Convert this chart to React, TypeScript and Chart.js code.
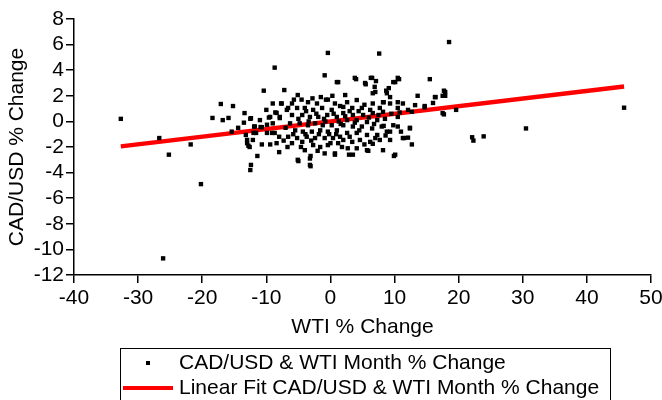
import React, { useEffect, useRef } from "react";
import { Chart, registerables } from "chart.js";

Chart.register(...registerables);

// WTI % change (x) and CAD/USD % change (y)
const wtiChange: number[] = [
  -32.7, -26.7, -25.2, -21.8, -20.2, -26.1, -18.4, -17.1, -16.8, -15.9, -15.2, -15.4, -14.4, -13.5, -13.4, -12.5, -13.2, -13.0, -12.8, -12.5, -12.4, -11.4, -11.9, -11.6, -10.9, -10.4, -10.7, -9.9, -9.4, -8.7, -9.6, -9.0, -8.6, -8.0, -7.2, -7.6, -7.9, -5.0, -3.1, -3.1, -0.4, -0.9, -0.7,
  18.5, 7.6, 45.8, 30.5, 23.9, 22.1, 22.3, 19.6, 17.7, 17.9, 17.7, 15.5, 16.4, 16.0, 14.7, 13.6, 13.2, 12.7, 12.4, 12.1, 11.5, 10.5, 9.9, 10.7, 10.1, 9.1, 8.7, 9.3, 8.3, 6.3, 7.1, 5.5, 7.0, 4.0, 1.2, 5.9, 2.9, 0.7, 6.6, 9.3, 8.3,
  -7.7, -12.4, -9.4, -8.4, -7.9, -9.0, -11.8, -10.7, -9.9, -9.1, -8.7, -13.0, -12.1, -12.6, -8.4,
  1.0, -5.1, -3.5, -6.0, -2.1, -0.4, 0.7, -6.6, -5.2, -4.0, -2.7, -1.3, 0.2, -6.0, -4.4, -3.2, -1.9, -0.5, 1.0, -6.3, -4.8, -3.5, -2.4, -1.2, 0.2, -5.5, -4.3, -2.9, -1.6, -0.4, 1.0, -6.6, -5.2, -3.7, -2.4, -0.9, 0.4, -6.0, -4.4, -2.7, -1.6, -0.4, 1.2, -4.0, -0.9, -5.1, -3.2, -3.2, 0.7,
  3.8, 6.5, 5.4, 6.9, 9.8, 2.3, 6.6, 8.8, 2.6, 4.1, 6.6, 8.2, 9.3, 2.0, 3.4, 4.9, 6.2, 7.7, 2.0, 3.5, 5.1, 6.6, 8.2, 2.6, 4.1, 5.7, 7.3, 2.0, 3.5, 4.9, 6.5, 8.0, 2.6, 4.1, 5.7, 7.3, 8.8, 2.0, 3.4, 4.6, 6.2, 7.7, 9.3, 2.7, 4.1, 5.7, 3.5, 8.2,
  10.5, 17.9, 17.5, 16.3, 10.5, 11.3, 14.7, 10.5, 12.1, 17.5, 10.5, 12.7, 12.4, 11.3, 10.1,
  -7.0, -6.8, -5.8, -5.0, -4.6, -3.8, -3.0, -2.2, -1.8, -1.0, -0.2, 0.5, 0.9, 1.5, 1.6, 1.5, 1.8, 2.3, 3.0, 3.0, 3.8, 4.4, 4.5, 5.3, 5.3, 6.0, 6.8, 7.0, 7.5, 8.5, 8.6, 9.5, 9.8, 10.8, 11.0, -10.0, -11.0, -12.0, -8.0, -7.3, -6.7, -5.7, -4.5, -2.8, -1.5, 0.3, -3.9, -2.0, 0.0, 1.3, -0.8, -3.4,
];
const cadChange: number[] = [
  0.2, -1.3, -2.6, -1.8, -4.9, -10.7, 0.27, 1.36, 0.1, 0.27, 1.2, -0.8, -0.5, -0.1, 0.65, 0.2, -1.06, -1.7, -1.9, -3.8, -3.4, -2.7, -0.4, -0.9, -0.44, 2.4, -1.8, -0.26, -1.8, 4.2, 0.3, 1.4, 0.7, -2.4, 2.45, 1.4, 0.35, -3.1, -2.7, -3.5, 5.35, 3.6, 1.7,
  6.2, 5.3, 1.07, -0.55, -1.17, -1.24, -1.5, 0.9, 0.55, 2.0, 2.4, 3.3, 1.9, 1.44, 1.1, 2.0, 1.27, -1.8, -0.5, -1.27, -1.3, -0.4, -2.7, 3.3, 3.07, 2.6, 2.4, 1.9, 1.5, 3.4, 3.15, 2.9, 2.3, 3.3, 3.07, -2.3, -2.6, -2.6, -1.75, -0.8, -0.35,
  1.4, 0.25, 0.35, 0.66, 0.26, -0.15, -0.4, -0.45, -0.9, -0.9, -0.9, -1.45, -1.45, -2.0, -1.7,
  3.07, 2.06, 1.5, 1.4, 1.4, 1.7, 1.4, 1.05, 1.05, 1.05, 0.9, 1.05, 0.9, 0.5, 0.5, 0.35, 0.35, 0.5, 0.35, -0.15, -0.15, -0.3, -0.15, -0.3, -0.3, -0.7, -0.8, -0.8, -0.7, -0.8, -0.7, -1.2, -1.3, -1.2, -1.3, -1.3, -1.3, -1.7, -1.6, -1.85, -2.0, -1.85, -1.7, -2.25, -2.5, -3.0, -3.4, -2.9, -2.5,
  3.4, 3.4, 3.0, 2.7, 3.07, 2.06, 2.2, 2.2, 1.5, 1.67, 1.4, 1.5, 1.4, 1.13, 1.05, 1.05, 0.9, 1.05, 0.65, 0.5, 0.5, 0.65, 0.75, 0.1, 0.1, -0.05, 0.1, -0.3, -0.4, -0.4, -0.55, -0.4, -0.9, -0.9, -1.06, -1.06, -0.8, -1.45, -1.6, -1.45, -1.6, -1.45, -1.45, -2.1, -2.1, -2.25, -2.6, -2.25,
  3.4, 2.3, 2.0, 1.9, 1.5, 1.4, 1.2, 1.05, 0.9, 0.65, 0.35, 0.75, -0.55, -1.3, -2.6,
  -0.5, 0.9, -1.0, 0.2, -2.0, 0.8, -1.5, 0.6, -1.0, 0.2, -1.0, 0.6, -1.0, 1.2, -0.2, -1.2, -2.0, 0.4, 0.8, -1.2, -0.1, 0.8, -0.7, 1.3, -1.8, 0.3, -0.2, -1.3, 0.5, 0.2, -1.1, 0.6, -0.3, 0.7, -0.8, 0.9, 0.1, -0.9, -1.2, -1.5, -2.0, 1.7, 1.7, 1.8, 1.9, 2.0, -1.0, -2.3, -1.7, 0.0, 0.0, 0.0,
];

// Linear fit end points
const fitX: number[] = [-32.7, 45.8];
const fitY: number[] = [-1.95, 2.72];

const xTicks: number[] = [-40, -30, -20, -10, 0, 10, 20, 30, 40, 50];
const yTicks: number[] = [-12, -10, -8, -6, -4, -2, 0, 2, 4, 6, 8];

const scatterLabel = "CAD/USD & WTI Month % Change";
const fitLabel = "Linear Fit CAD/USD & WTI Month % Change";

const FONT = "'Liberation Sans', Arial, sans-serif";

const boxLegend = {
  id: "boxLegend",
  afterDraw(chart: any) {
    const ctx = chart.ctx;
    ctx.save();
    ctx.strokeStyle = "#000";
    ctx.lineWidth = 1;
    ctx.strokeRect(120.5, 348.5, 490, 60);
    ctx.fillStyle = "#000";
    ctx.fillRect(146, 361, 4, 4);
    ctx.strokeStyle = "#ff0000";
    ctx.lineWidth = 4;
    ctx.beginPath();
    ctx.moveTo(123, 388);
    ctx.lineTo(173, 388);
    ctx.stroke();
    ctx.fillStyle = "#000";
    ctx.font = `21px ${FONT}`;
    ctx.textBaseline = "middle";
    ctx.textAlign = "left";
    ctx.fillText(chart.data.datasets[0].label, 179, 363);
    ctx.fillText(chart.data.datasets[1].label, 179, 388);
    ctx.restore();
  },
};

export default function App() {
  const ref = useRef<HTMLCanvasElement | null>(null);
  useEffect(() => {
    if (!ref.current) return;
    const points = wtiChange.map((x, i) => ({ x, y: cadChange[i] }));
    const fit = fitX.map((x, i) => ({ x, y: fitY[i] }));
    const chart = new Chart(ref.current, {
      type: "scatter",
      data: {
        datasets: [
          {
            label: scatterLabel,
            data: points,
            pointStyle: "rect",
            pointRadius: 3.1,
            backgroundColor: "#000",
            borderWidth: 0,
          },
          {
            type: "line",
            label: fitLabel,
            data: fit,
            borderColor: "#ff0000",
            borderWidth: 4.5,
            pointRadius: 0,
            showLine: true,
            fill: false,
          } as any,
        ],
      },
      options: {
        animation: false,
        responsive: false,
        layout: { padding: { left: 0, top: 19, right: 11, bottom: 55 } },
        plugins: { legend: { display: false }, tooltip: { enabled: false } },
        scales: {
          x: {
            type: "linear",
            min: -40,
            max: 50,
            afterFit: (s: any) => {
              s.height = 70;
              s.paddingLeft = 0;
              s.paddingRight = 0;
            },
            afterBuildTicks: (s: any) => {
              s.ticks = xTicks.map((v) => ({ value: v }));
            },
            grid: { drawOnChartArea: false, drawTicks: true, tickLength: 8, color: "#000", lineWidth: 1.5 },
            border: { color: "#000", width: 1.5 },
            ticks: { color: "#000", font: { family: FONT, size: 21 }, padding: 3, maxRotation: 0, autoSkip: false },
            title: { display: true, text: "WTI % Change", color: "#000", font: { family: FONT, size: 21 }, padding: { top: 0, bottom: 5 } },
          },
          y: {
            type: "linear",
            min: -12,
            max: 8,
            afterFit: (s: any) => {
              s.width = 74;
              s.paddingTop = 0;
              s.paddingBottom = 0;
            },
            afterBuildTicks: (s: any) => {
              s.ticks = yTicks.map((v) => ({ value: v }));
            },
            grid: { drawOnChartArea: false, drawTicks: true, tickLength: 8, color: "#000", lineWidth: 1.5 },
            border: { color: "#000", width: 1.5 },
            ticks: { color: "#000", font: { family: FONT, size: 21 }, padding: 2, autoSkip: false },
            title: { display: true, text: "CAD/USD % Change", color: "#000", font: { family: FONT, size: 21 }, padding: { top: 5, bottom: 0 } },
          },
        },
      },
      plugins: [boxLegend],
    });
    return () => chart.destroy();
  }, []);
  return (
    <div style={{ position: "fixed", left: 0, top: 0, width: 662, height: 400, background: "#fff" }}>
      <canvas ref={ref} width={662} height={400} style={{ width: 662, height: 400, display: "block" }} />
    </div>
  );
}
